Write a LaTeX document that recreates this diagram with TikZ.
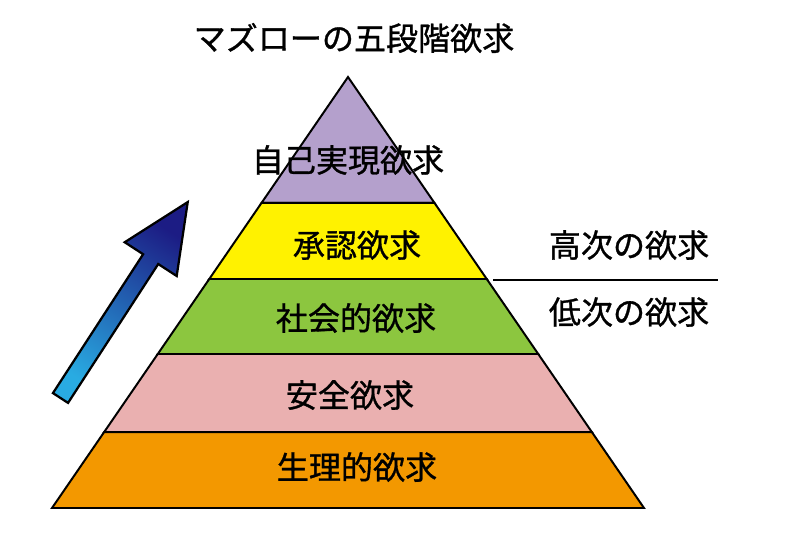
\documentclass[tikz,border=0pt]{standalone}
\usepackage{fontspec}
\setmainfont[FakeBold=1]{Noto Sans CJK JP}
\usetikzlibrary{calc}
\usepackage{xcolor}
\definecolor{selfPurple}{RGB}{180,160,204}
\definecolor{esteemYellow}{RGB}{255,242,0}
\definecolor{socialGreen}{RGB}{140,198,63}
\definecolor{safetyPink}{RGB}{234,176,176}
\definecolor{physOrange}{RGB}{243,152,0}
\definecolor{arrowLight}{RGB}{41,171,226}
\definecolor{arrowMid}{RGB}{36,80,170}
\definecolor{arrowDark}{RGB}{28,28,132}

\begin{document}
\begin{tikzpicture}[x=0.025cm,y=-0.025cm]
	\tikzset{layer/.style = {draw,line width=1.4pt,line join=miter}}
	\tikzset{lvltext/.style = {font=\fontsize{22.8pt}{24pt}\selectfont,inner sep=0pt}}
	\useasboundingbox (0,0) rectangle (800,532);
	\coordinate (A) at (348,77);
	\coordinate (BL) at (52,508);
	\coordinate (BR) at (644,508);
	%layer borders
	\coordinate (L1) at ($(A)!0.2923!(BL)$);
	\coordinate (R1) at ($(A)!0.2923!(BR)$);
	\coordinate (L2) at ($(A)!0.4687!(BL)$);
	\coordinate (R2) at ($(A)!0.4687!(BR)$);
	\coordinate (L3) at ($(A)!0.6427!(BL)$);
	\coordinate (R3) at ($(A)!0.6427!(BR)$);
	\coordinate (L4) at ($(A)!0.8237!(BL)$);
	\coordinate (R4) at ($(A)!0.8237!(BR)$);
	\draw[layer,fill=selfPurple] (A) -- (L1) -- (R1) -- cycle;
	\draw[layer,fill=esteemYellow] (L1) -- (L2) -- (R2) -- (R1) -- cycle;
	\draw[layer,fill=socialGreen] (L2) -- (L3) -- (R3) -- (R2) -- cycle;
	\draw[layer,fill=safetyPink] (L3) -- (L4) -- (R4) -- (R3) -- cycle;
	\draw[layer,fill=physOrange] (L4) -- (BL) -- (BR) -- (R4) -- cycle;
	%texts
	\node[lvltext] (title) at (354,38) {マズローの五段階欲求};
	\node[lvltext] (self) at (348,160) {自己実現欲求};
	\node[lvltext] (esteem) at (357,245) {承認欲求};
	\node[lvltext] (social) at (356,318) {社会的欲求};
	\node[lvltext] (safety) at (350,395) {安全欲求};
	\node[lvltext] (phys) at (357,467) {生理的欲求};
	\node[lvltext] (high) at (629,245) {高次の欲求};
	\node[lvltext] (low) at (629,312) {低次の欲求};
	\coordinate (divL) at (493,280);
	\coordinate (divR) at (718,280);
	\draw[line width=1.4pt] (divL) -- (divR);
	%arrow
	\begin{scope}[shift={(60.5,398)},rotate=57]
		\shade[draw,line width=1.6pt,line join=miter,bottom color=arrowLight,middle color=arrowMid,top color=arrowDark,shading angle=-33]
			(0,-9) -- (165.6,-9) -- (165.6,-31) -- (233.6,0) -- (165.6,31) -- (165.6,9) -- (0,9) -- cycle;
	\end{scope}
\end{tikzpicture}
\end{document}
